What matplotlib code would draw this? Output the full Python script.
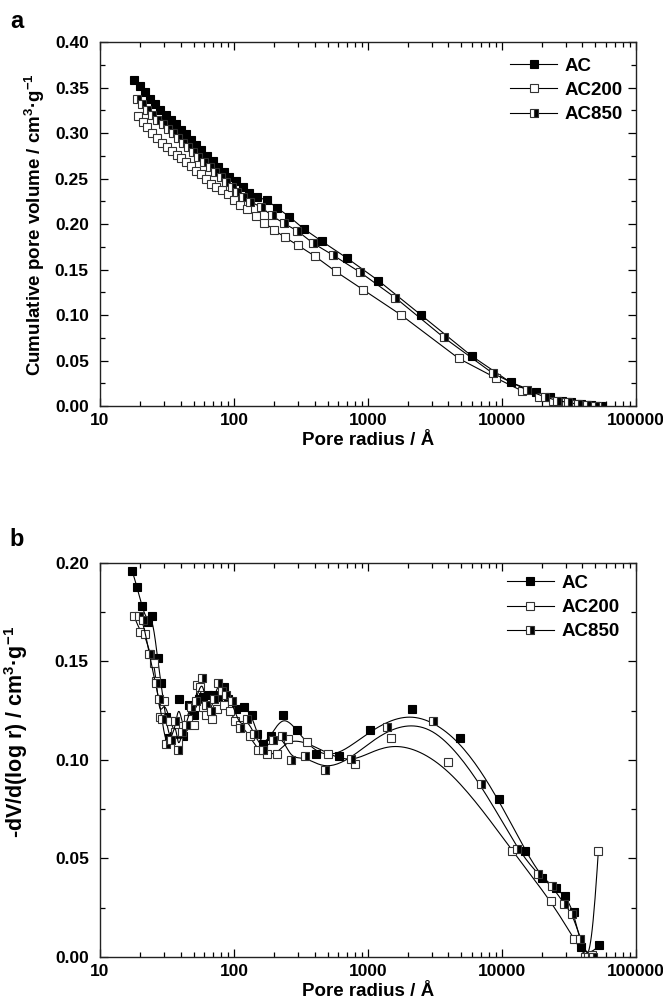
import numpy as np
import matplotlib
matplotlib.use('Agg')
import matplotlib.pyplot as plt
from matplotlib.ticker import FixedLocator, LogLocator, MultipleLocator, NullFormatter, FormatStrFormatter

plt.rcParams['font.family'] = ['Liberation Sans', 'DejaVu Sans']
plt.rcParams['font.weight'] = 'bold'
plt.rcParams['mathtext.fontset'] = 'custom'
plt.rcParams['mathtext.rm'] = 'Liberation Sans:bold'
plt.rcParams['mathtext.bf'] = 'Liberation Sans:bold'
plt.rcParams['mathtext.default'] = 'bf'

# ---- panel a: cumulative pore volume ----
a_ac_r = [18.0, 19.8, 21.6, 23.5, 25.7, 28.1, 30.9, 33.7, 36.8, 40.2, 44, 48, 52.4, 57.2, 62.5,
          69.5, 75.9, 83.8, 92, 103.5, 116, 130, 150, 176, 210, 260, 331, 455, 693, 1197, 2500,
          5960, 11640, 17950, 23000, 28000, 33000, 39000, 46000, 55000]
a_ac_v = [0.358, 0.352, 0.345, 0.338, 0.332, 0.326, 0.320, 0.315, 0.310, 0.304, 0.299, 0.293,
          0.287, 0.281, 0.275, 0.269, 0.263, 0.257, 0.252, 0.247, 0.241, 0.234, 0.230, 0.226,
          0.218, 0.208, 0.195, 0.181, 0.163, 0.138, 0.100, 0.055, 0.026, 0.0155, 0.010, 0.006,
          0.004, 0.002, 0.001, 0.000]

a_ac200_r = [19.3, 20.8, 22.5, 24.4, 26.8, 29.1, 31.6, 34.3, 37.5, 40.5, 44, 47.7, 52.1, 56.6,
             61.8, 67.4, 73.6, 81, 90, 100, 112, 126, 146, 168, 198, 239, 302, 400, 575, 920,
             1775, 4770, 9000, 14130, 19000, 24000, 30000, 36000, 43000, 51000]
a_ac200_v = [0.319, 0.3126, 0.3071, 0.3007, 0.2946, 0.2888, 0.2844, 0.280, 0.2765, 0.2724, 0.268,
             0.264, 0.2588, 0.2548, 0.250, 0.2446, 0.241, 0.2378, 0.2327, 0.2265, 0.2214, 0.2163,
             0.2085, 0.2017, 0.194, 0.1857, 0.1765, 0.165, 0.148, 0.128, 0.100, 0.0523, 0.031,
             0.0167, 0.010, 0.006, 0.004, 0.002, 0.001, 0.000]

a_ac850_r = [18.9, 20.6, 22.5, 24.5, 26.8, 29.3, 32, 34.9, 38.2, 41.7, 45.5, 49.7, 54.3, 60,
             66.3, 72.8, 80.5, 87.9, 96.6, 106, 116.5, 132, 160, 191, 235, 298, 390, 548, 877,
             1607, 3680, 8570, 15450, 21000, 26000, 31000, 37000, 43000, 50000]
a_ac850_v = [0.338, 0.332, 0.326, 0.320, 0.315, 0.310, 0.305, 0.300, 0.2946, 0.2895, 0.2844,
             0.2793, 0.2742, 0.2684, 0.263, 0.2571, 0.2514, 0.246, 0.2412, 0.235, 0.2299, 0.2248,
             0.2187, 0.2095, 0.201, 0.1925, 0.179, 0.166, 0.147, 0.119, 0.0755, 0.036, 0.0175,
             0.010, 0.006, 0.004, 0.002, 0.001, 0.000]

# ---- panel b: pore size distribution ----
b_ac_r = [17.4, 18.9, 20.5, 22.7, 24.6, 26.9, 28.5, 30.9, 33.0, 35.5, 38.9, 42.0, 46.4, 50.0,
          55.0, 59.0, 64.0, 69.3, 76.0, 84.1, 90.8, 103.5, 119, 135.5, 149.3, 165, 188, 233,
          297, 409, 611, 1035, 2150, 4910, 9500, 14940, 20100, 25280, 29720, 34500, 39080,
          44000, 53600]
b_ac_v = [0.196, 0.188, 0.178, 0.170, 0.173, 0.152, 0.139, 0.122, 0.111, 0.112, 0.131, 0.112,
          0.128, 0.123, 0.131, 0.132, 0.133, 0.133, 0.132, 0.137, 0.131, 0.126, 0.127, 0.123,
          0.113, 0.108, 0.112, 0.123, 0.115, 0.103, 0.102, 0.115, 0.126, 0.111, 0.080, 0.054,
          0.040, 0.035, 0.031, 0.023, 0.005, 0.000, 0.006]

b_ac200_r = [18.0, 19.9, 21.7, 23.5, 25.3, 26.2, 28.0, 30.2, 33.3, 36.3, 38.5, 41.9, 45.5, 50.2,
             52.7, 56.0, 59.0, 61.8, 68.5, 74.3, 85, 93.4, 101.6, 112, 131.5, 151.8, 177.4, 210,
             254, 352, 506, 800, 1500, 3950, 11890, 23330, 34670, 42000, 47000, 52650]
b_ac200_v = [0.173, 0.165, 0.164, 0.154, 0.149, 0.140, 0.122, 0.130, 0.120, 0.114, 0.109, 0.117,
             0.121, 0.118, 0.138, 0.137, 0.127, 0.123, 0.121, 0.126, 0.128, 0.125, 0.120, 0.118,
             0.112, 0.105, 0.103, 0.103, 0.1105, 0.109, 0.103, 0.098, 0.111, 0.099, 0.054,
             0.0285, 0.009, 0.000, 0.001, 0.054]

b_ac850_r = [19.5, 21, 23.2, 26.0, 27.5, 29, 31, 34, 36.6, 38.4, 41, 44, 48, 52, 58, 62, 67, 71,
             76.4, 82, 88, 96, 112, 125, 142, 165, 195, 230, 269, 339, 478, 755, 1393, 3050,
             7050, 12950, 18560, 23870, 29050, 33680, 38640, 44000, 48000]
b_ac850_v = [0.173, 0.171, 0.154, 0.139, 0.131, 0.121, 0.108, 0.110, 0.120, 0.105, 0.114, 0.118,
             0.127, 0.130, 0.1417, 0.128, 0.125, 0.131, 0.139, 0.135, 0.133, 0.130, 0.116, 0.121,
             0.113, 0.105, 0.110, 0.112, 0.100, 0.102, 0.095, 0.1005, 0.1166, 0.120, 0.088,
             0.055, 0.042, 0.036, 0.027, 0.022, 0.009, 0.000, 0.000]

labels = ['AC', 'AC200', 'AC850']
x_ticks = [10, 100, 1000, 10000, 100000]
x_tick_labels = ['10', '100', '1000', '10000', '100000']


# clamped cubic B-spline with the points as control points (log x space),
# the way Origin draws its "B-Spline" connect line
def bspline(x, y, n=600, k=3):
    lx = np.log10(np.asarray(x, float))
    yy = np.asarray(y, float)
    m = len(lx)
    knots = np.concatenate([np.zeros(k), np.linspace(0, 1, m - k + 1), np.ones(k)])
    t = np.linspace(0, 1, n)
    B = np.zeros((n, len(knots) - 1))
    for i in range(len(knots) - 1):
        B[:, i] = (knots[i] <= t) & (t < knots[i + 1])
    last = np.max(np.nonzero(knots[:-1] < knots[-1]))
    B[t == 1.0, last] = 1
    for d in range(1, k + 1):
        Bn = np.zeros((n, len(knots) - 1 - d))
        for i in range(len(knots) - 1 - d):
            a = knots[i + d] - knots[i]
            b = knots[i + d + 1] - knots[i + 1]
            term = np.zeros(n)
            if a > 0:
                term += (t - knots[i]) / a * B[:, i]
            if b > 0:
                term += (knots[i + d + 1] - t) / b * B[:, i + 1]
            Bn[:, i] = term
        B = Bn
    return 10 ** (B @ lx), B @ yy


fig = plt.figure(figsize=(6.63, 10.05), dpi=100)
ax_a = fig.add_axes([0.1508, 0.596, 0.808, 0.362])
ax_b = fig.add_axes([0.1508, 0.0478, 0.808, 0.392])

styles = [dict(marker='s', markerfacecolor='black', markeredgecolor='black'),
          dict(marker='s', markerfacecolor='white', markeredgecolor='#333333'),
          dict(marker='s', fillstyle='right', markerfacecolor='black',
               markerfacecoloralt='white', markeredgecolor='#333333')]
ms = 6.3
lw = 0.8

# panel a: straight connecting lines
for (r, v), lab, st in zip([(a_ac_r, a_ac_v), (a_ac200_r, a_ac200_v), (a_ac850_r, a_ac850_v)],
                           labels, styles):
    ax_a.plot(r, v, color='black', lw=lw, ms=ms, markeredgewidth=0.8, label=lab, **st)

# panel b: smoothed B-spline lines, markers on top
for (r, v), lab, st in zip([(b_ac_r, b_ac_v), (b_ac200_r, b_ac200_v), (b_ac850_r, b_ac850_v)],
                           labels, styles):
    sx, sy = bspline(r, v)
    ax_b.plot(sx, sy, color='black', lw=lw)
    ax_b.plot(r, v, ls='none', ms=ms, markeredgewidth=0.8, **st)
    ax_b.plot([], [], color='black', lw=lw, ms=ms, markeredgewidth=0.8, label=lab, **st)

for ax, ymax, anchor in [(ax_a, 0.40, (0.976, 0.958)), (ax_b, 0.20, (0.970, 0.970))]:
    ax.set_xscale('log')
    ax.set_xlim(10, 100000)
    ax.set_ylim(0, ymax)
    ax.xaxis.set_major_locator(FixedLocator(x_ticks))
    ax.set_xticklabels(x_tick_labels)
    ax.xaxis.set_minor_locator(LogLocator(base=10, subs=np.arange(2, 10), numticks=20))
    ax.xaxis.set_minor_formatter(NullFormatter())
    ax.yaxis.set_major_locator(MultipleLocator(0.05))
    ax.yaxis.set_minor_locator(MultipleLocator(0.025))
    ax.yaxis.set_major_formatter(FormatStrFormatter('%.2f'))
    ax.tick_params(which='both', direction='in', top=True, right=True, labelsize=12.5, width=0.9)
    ax.tick_params(which='major', length=6)
    ax.tick_params(which='minor', length=3.5)
    ax.tick_params(axis='y', which='major', pad=8)
    ax.tick_params(axis='x', which='major', pad=5)
    for s in ax.spines.values():
        s.set_linewidth(1.0)
        s.set_color('#222222')
    for t in ax.get_xticklabels() + ax.get_yticklabels():
        t.set_fontweight('bold')
    ax.set_xlabel('Pore radius / Å', fontsize=13.5, fontweight='bold', labelpad=3)
    ax.legend(loc='upper right', bbox_to_anchor=anchor, frameon=False, borderpad=0,
              borderaxespad=0, handlelength=2.5, handletextpad=0.4, labelspacing=0.38,
              prop={'weight': 'bold', 'size': 13.5})

ax_a.set_ylabel(r'Cumulative pore volume / cm$^{3}$·g$^{-1}$', fontsize=13.5, fontweight='bold',
                labelpad=6)
ax_b.set_ylabel(r'-dV/d(log r) / cm$^{3}$·g$^{-1}$', fontsize=15.5, fontweight='bold')
ax_b.yaxis.set_label_coords(-0.13, 0.57)

fig.text(0.015, 0.979, 'a', fontsize=17, fontweight='bold', va='center')
fig.text(0.015, 0.463, 'b', fontsize=17, fontweight='bold', va='center')

fig.savefig('out.png', dpi=100)
